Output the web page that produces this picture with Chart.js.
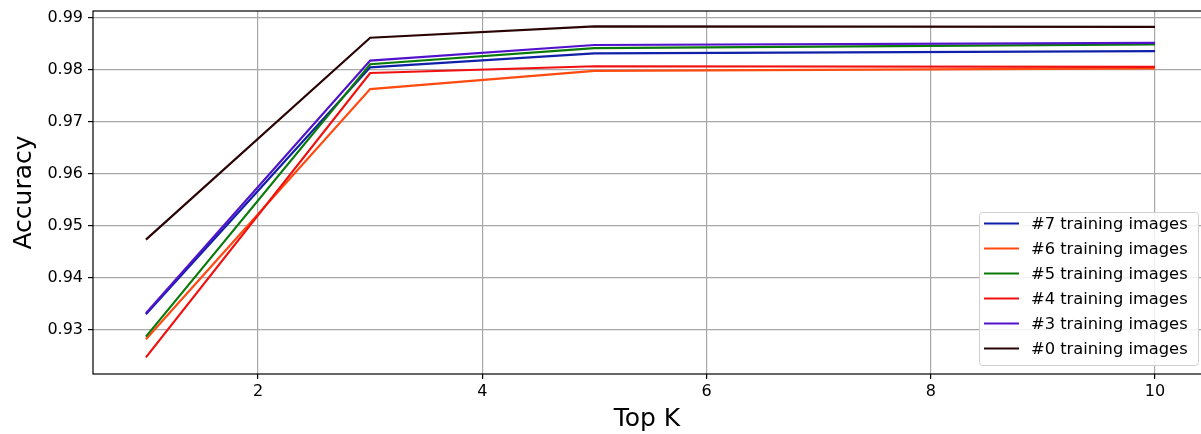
<!DOCTYPE html>
<html>
<head>
<meta charset="utf-8">
<script src="https://cdn.jsdelivr.net/npm/chart.js@4/dist/chart.umd.min.js"></script>
<style>
  html, body { margin: 0; padding: 0; background: #fff; }
  #wrap { width: 1201px; height: 434px; }
</style>
</head>
<body>
<div id="wrap"><canvas id="accChart" width="1201" height="434"></canvas></div>
<script>
// Top K values where accuracy was measured
const topK = [1, 3, 5, 10];

// Accuracy per number of training images
const acc7 = [0.9329, 0.9805, 0.9832, 0.9836];
const acc6 = [0.9281, 0.9763, 0.9798, 0.9803];
const acc5 = [0.9286, 0.9811, 0.9842, 0.9849];
const acc4 = [0.9246, 0.9794, 0.9807, 0.9806];
const acc3 = [0.9331, 0.9818, 0.9848, 0.9852];
const acc0 = [0.9473, 0.9862, 0.9884, 0.9883];

const seriesLabels = ['#7 training images', '#6 training images', '#5 training images',
                      '#4 training images', '#3 training images', '#0 training images'];

// tick labels
const xTicks = [2, 4, 6, 8, 10];
const yTicks = [0.93, 0.94, 0.95, 0.96, 0.97, 0.98, 0.99];

const colors = ['#1020a8', '#ff4a10', '#0a7a0a', '#f01010', '#5212cc', '#2a0404'];
const allValues = [acc7, acc6, acc5, acc4, acc3, acc0];

const datasets = allValues.map((vals, i) => ({
  label: seriesLabels[i],
  data: vals.map((v, j) => ({ x: topK[j], y: v })),
  borderColor: colors[i],
  backgroundColor: colors[i],
  borderWidth: 2.2,
  pointRadius: 0,
  tension: 0,
  order: allValues.length - i  // later series on top, like matplotlib
}));

const FONT = "'DejaVu Sans', sans-serif";

// frame + legend box drawn inside plot area
const framePlugin = {
  id: 'frame',
  afterDatasetsDraw(chart) {
    const { ctx, chartArea } = chart;
    ctx.save();
    ctx.strokeStyle = '#000';
    ctx.lineWidth = 1.2;
    ctx.strokeRect(chartArea.left, chartArea.top, chartArea.right - chartArea.left + 5, chartArea.bottom - chartArea.top);

    // legend
    const bx = 979, by = 212, bw = 219, bh = 153;
    ctx.fillStyle = 'rgba(255,255,255,0.85)';
    ctx.strokeStyle = '#d0d0d0';
    ctx.lineWidth = 1;
    ctx.beginPath();
    ctx.roundRect(bx + 0.5, by + 0.5, bw, bh, 3);
    ctx.fill();
    ctx.stroke();
    ctx.font = '16.3px ' + FONT;
    ctx.textBaseline = 'middle';
    chart.data.datasets.forEach((ds, i) => {
      const y = by + 11.5 + i * 25;
      ctx.strokeStyle = ds.borderColor;
      ctx.lineWidth = 2.2;
      ctx.beginPath();
      ctx.moveTo(984, y);
      ctx.lineTo(1019, y);
      ctx.stroke();
      ctx.fillStyle = '#000';
      ctx.fillText(ds.label, 1031, y + 1);
    });
    ctx.restore();
  }
};

new Chart(document.getElementById('accChart').getContext('2d'), {
  type: 'line',
  data: { datasets: datasets },
  options: {
    responsive: false,
    animation: false,
    layout: { padding: { top: 11, right: 0, left: 0, bottom: 0 } },
    plugins: {
      legend: { display: false },
      tooltip: { enabled: false }
    },
    scales: {
      x: {
        type: 'linear',
        min: 0.528,
        max: 10.41,
        afterBuildTicks: s => { s.ticks = xTicks.map(v => ({ value: v })); },
        afterFit: s => { s.height = 60; s.paddingLeft = 0; s.paddingRight = 0; },
        grid: { color: '#a8a8a8', lineWidth: 1.2, tickColor: '#000', tickLength: 5 },
        border: { display: false },
        ticks: { color: '#000', font: { family: FONT, size: 16 }, padding: 3, maxRotation: 0 },
        title: { display: true, text: 'Top K', color: '#000', font: { family: FONT, size: 25 }, padding: { top: 0, bottom: 0 } }
      },
      y: {
        min: 0.9214,
        max: 0.99135,
        afterBuildTicks: s => { s.ticks = yTicks.map(v => ({ value: v })); },
        afterFit: s => { s.width = 93; s.paddingTop = 0; s.paddingBottom = 0; },
        grid: { color: '#a8a8a8', lineWidth: 1.2, tickColor: '#000', tickLength: 5 },
        border: { display: false },
        ticks: { color: '#000', font: { family: FONT, size: 16 }, padding: 5,
                 callback: v => v.toFixed(2) },
        title: { display: true, text: 'Accuracy', color: '#000', font: { family: FONT, size: 25 }, padding: { top: 9, bottom: 0 } }
      }
    }
  },
  plugins: [framePlugin]
});
</script>
</body>
</html>
